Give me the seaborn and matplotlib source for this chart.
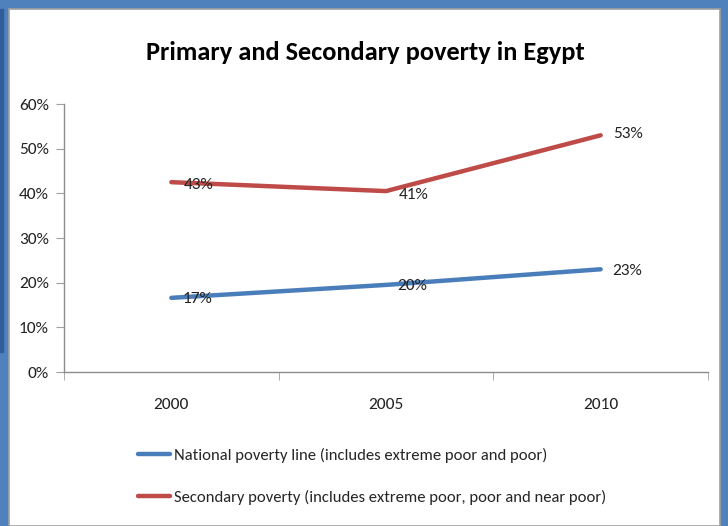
import matplotlib
matplotlib.use("Agg")
import matplotlib.pyplot as plt
from matplotlib.patches import Rectangle
import seaborn as sns
import pandas as pd

years = ["2000", "2005", "2010"]
national = [0.166, 0.195, 0.23]
secondary = [0.425, 0.405, 0.53]
national_labels = ["17%", "20%", "23%"]
secondary_labels = ["43%", "41%", "53%"]
series_names = ["National poverty line (includes extreme poor and poor)",
                "Secondary poverty (includes extreme poor, poor and near poor)"]
y_ticks = [0, 0.1, 0.2, 0.3, 0.4, 0.5, 0.6]
y_tick_labels = ["0%", "10%", "20%", "30%", "40%", "50%", "60%"]

sns.set_style("white")
plt.rcParams["font.family"] = ["Carlito", "DejaVu Sans"]

TICK_FS = 12.5
LEG_FS = 12
TITLE_FS = 19

df = pd.DataFrame({
    "year": years * 2,
    "value": national + secondary,
    "series": [series_names[0]] * 3 + [series_names[1]] * 3,
})

W, H = 728, 526
fig = plt.figure(figsize=(W / 100, H / 100), dpi=100)

blue = "#4F81BD"
fig.patches.append(Rectangle((0, 0), 1, 1, transform=fig.transFigure, color=blue, zorder=-10))
fig.patches.append(Rectangle((9 / W, 0), (720 - 9) / W, 1 - 9 / H, transform=fig.transFigure,
                             facecolor="white", edgecolor="#A0A0A0", lw=1.2, zorder=-9))
fig.patches.append(Rectangle((0, 1 - 352 / H), 3 / W, 352 / H - 9 / H, transform=fig.transFigure,
                             color="#2E5D9A", zorder=-8))

ax = fig.add_axes([64 / W, 1 - 372 / H, (708 - 64) / W, (372 - 104) / H])
ax.set_facecolor("none")

palette = {series_names[0]: "#4A7EBB", series_names[1]: "#BE4B48"}
sns.lineplot(data=df, x="year", y="value", hue="series", palette=palette,
             linewidth=3.2, ax=ax, sort=False)

ax.set_xlim(-0.5, 2.5)
ax.set_ylim(0, 0.6)
ax.set_yticks(y_ticks)
ax.set_yticklabels(y_tick_labels)
ax.set_xticks([0, 1, 2])
ax.set_xticklabels(years)
ax.set_xticks([-0.5, 0.5, 1.5, 2.5], minor=True)
ax.tick_params(axis="x", which="major", length=0, pad=19, labelsize=TICK_FS, colors="#222222")
ax.tick_params(axis="x", which="minor", length=6, color="#A0A0A0", direction="out", bottom=True)
ax.tick_params(axis="y", length=6, color="#A0A0A0", direction="out", left=True,
               labelsize=TICK_FS, pad=5, labelcolor="#222222")
ax.set_xlabel("")
ax.set_ylabel("")
for s in ["top", "right"]:
    ax.spines[s].set_visible(False)
for s in ["left", "bottom"]:
    ax.spines[s].set_color("#8C8C8C")
    ax.spines[s].set_linewidth(1.0)

for i, (v, lab) in enumerate(zip(national, national_labels)):
    ax.annotate(lab, (i, v), xytext=(8, -1), textcoords="offset points",
                ha="left", va="center", fontsize=TICK_FS, color="#222222")
for i, (v, lab) in enumerate(zip(secondary, secondary_labels)):
    dy = -2 if i < 2 else 1
    if i == 1:
        dy = -3
    ax.annotate(lab, (i, v), xytext=(9, dy), textcoords="offset points",
                ha="left", va="center", fontsize=TICK_FS, color="#222222")

fig.text(365 / W, 1 - 52 / H, "Primary and Secondary poverty in Egypt",
         ha="center", va="center", fontsize=TITLE_FS, fontweight="bold", color="black")

handles, labels = ax.get_legend_handles_labels()
ax.legend(handles, labels, loc="upper left", bbox_to_anchor=(138 / W, 1 - 448 / H),
          bbox_transform=fig.transFigure, frameon=False, fontsize=LEG_FS,
          handlelength=1.92, handletextpad=0.24, labelspacing=1.6, borderpad=0,
          borderaxespad=0)

fig.savefig("out.png", dpi=100)
